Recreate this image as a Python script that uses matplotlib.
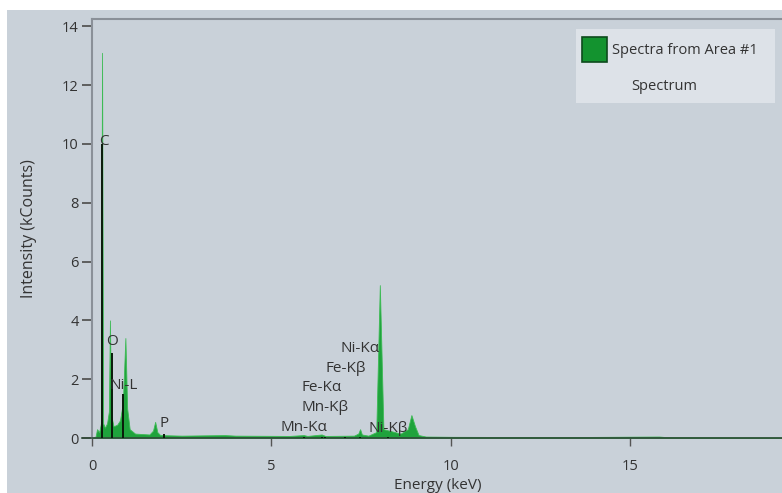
import matplotlib
matplotlib.use('Agg')
import matplotlib.pyplot as plt
from matplotlib.patches import Rectangle
import numpy as np

plt.rcParams['font.family'] = ['Open Sans', 'DejaVu Sans']

# spectrum (keV, kCounts)
energy = [0.0, 0.10, 0.14, 0.20, 0.25, 0.28, 0.31, 0.36, 0.42, 0.47, 0.50, 0.53,
          0.60, 0.70, 0.78, 0.86, 0.93, 0.98, 1.05, 1.20, 1.60, 1.70, 1.76, 1.82,
          1.90, 2.50, 3.70, 4.00, 5.50, 5.90, 6.00, 6.40, 6.50, 7.30, 7.42, 7.47,
          7.52, 7.70, 7.92, 8.02, 8.12, 8.60, 8.80, 8.90, 9.00, 9.10, 9.30, 10.0,
          13.0, 15.8, 16.0, 19.3]
counts = [0.0, 0.05, 0.3, 0.2, 0.5, 13.1, 0.5, 0.35, 0.5, 0.9, 4.0, 0.8,
          0.4, 0.45, 0.6, 1.2, 3.4, 1.0, 0.3, 0.15, 0.12, 0.25, 0.55, 0.2,
          0.1, 0.08, 0.1, 0.08, 0.07, 0.1, 0.07, 0.12, 0.07, 0.08, 0.15, 0.3,
          0.12, 0.08, 0.2, 5.2, 0.3, 0.15, 0.3, 0.78, 0.4, 0.1, 0.05, 0.04,
          0.03, 0.05, 0.03, 0.02]

# element markers
lines = ['C', 'O', 'Ni-L', 'P', 'Mn-Kα', 'Mn-Kβ', 'Fe-Kα', 'Fe-Kβ', 'Ni-Kα', 'Ni-Kβ']
line_e = [0.28, 0.55, 0.87, 2.01, 5.90, 6.49, 6.40, 7.06, 7.48, 8.26]
line_h = [10.0, 2.9, 1.5, 0.15, 0.05, 0.05, 0.05, 0.05, 0.05, 0.05]
label_y = [10.1, 3.27, 1.8, 0.5, 0.37, 1.05, 1.73, 2.38, 3.03, 0.34]
label_dx = [0.05, 0.0, 0.0, 0.0, 0.0, 0.0, 0.0, 0.0, 0.0, 0.0]

bg = '#c9d1d9'
txt = '#333333'
fig = plt.figure(figsize=(7.82, 4.93), dpi=100)
fig.patch.set_facecolor('white')
fig.patches.append(Rectangle((7 / 782, 0), 1, (493 - 10) / 493, transform=fig.transFigure,
                             facecolor=bg, edgecolor='none', zorder=-10))

ax = fig.add_axes([92 / 782, (493 - 438) / 493, 1 - 92 / 782 + 0.002, (438 - 19) / 493])
ax.set_facecolor(bg)
ax.fill_between(energy, counts, 0, color='#1fa33c', linewidth=0.6, edgecolor='#3dbb55', zorder=2)

for e, h in zip(line_e, line_h):
    ax.vlines(e, 0, h, color='#0a1a0a', linewidth=1.4, zorder=3)
for name, e, y, dx in zip(lines, line_e, label_y, label_dx):
    ax.text(e + dx, y, name, ha='center', va='center', fontsize=11, color=txt, zorder=4)

ax.set_xlim(0, 19.27)
ax.set_ylim(0, 14.25)
ax.set_xticks([0, 5, 10, 15])
ax.set_yticks(np.arange(0, 15, 2))
ax.tick_params(axis='y', length=7.5, width=1.3, color='#555555', labelsize=10.5, labelcolor=txt, pad=2)
ax.tick_params(axis='x', length=6, width=1.0, color='#555555', labelsize=10.5, labelcolor=txt, pad=9)

for s in ['left', 'top']:
    ax.spines[s].set_color('#8a9098')
    ax.spines[s].set_linewidth(1.5)
ax.spines['right'].set_visible(False)
ax.spines['bottom'].set_color('#2f4a38')
ax.spines['bottom'].set_linewidth(1.2)
ax.plot([-0.014, 0], [0, 0], transform=ax.transAxes, clip_on=False, color='#2f4a38', linewidth=1.2)

ax.set_xlabel('Energy (keV)', fontsize=11, color=txt, labelpad=3)
ax.set_ylabel('Intensity (kCounts)', fontsize=11.5, color=txt, labelpad=18)

# legend box
leg_ax = fig.add_axes([576 / 782, (493 - 103) / 493, 199 / 782, 74 / 493])
leg_ax.set_xlim(0, 199)
leg_ax.set_ylim(74, 0)
leg_ax.axis('off')
leg_ax.add_patch(Rectangle((0, 0), 199, 74, facecolor='#dde2e8', edgecolor='none'))
leg_ax.add_patch(Rectangle((6, 8), 25, 25, facecolor='#13932f', edgecolor='#0d4a1c', linewidth=1.2))
leg_ax.text(36, 21, 'Spectra from Area #1', fontsize=10.5, va='center', color=txt)
leg_ax.text(55, 57, 'Spectrum', fontsize=10.5, va='center', color=txt)

fig.savefig('out.png', dpi=100)
